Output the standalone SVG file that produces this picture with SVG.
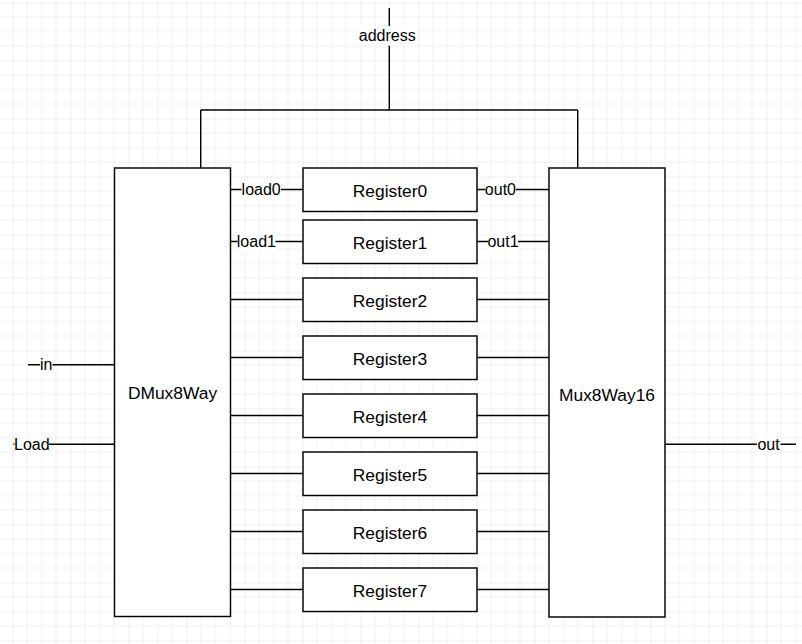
<svg xmlns="http://www.w3.org/2000/svg" width="802" height="644" viewBox="0 0 802 644">
  <defs>
    <pattern id="grid" patternUnits="userSpaceOnUse" x="12.5" y="2.5" width="58" height="58">
      <path d="M14.5 0V58M29 0V58M43.5 0V58M0 14.5H58M0 29H58M0 43.5H58" stroke="#f0f0f0" stroke-width="1" fill="none"/>
      <path d="M0 0V58M0 0H58" stroke="#e0e0e0" stroke-width="1" fill="none"/>
    </pattern>
    <style>
      .box { fill: #ffffff; stroke: #000000; stroke-width: 1.45; }
      .wire { fill: none; stroke: #000000; stroke-width: 1.45; }
      .node-label { font-family: "Liberation Sans", Arial, sans-serif; font-size: 17.4px; fill: #000000; text-anchor: middle; }
      .edge-label { font-family: "Liberation Sans", Arial, sans-serif; font-size: 16px; fill: #000000; text-anchor: middle; }
      .label-bg { fill: #ffffff; stroke: none; }
    </style>
  </defs>

  <rect x="0" y="0" width="802" height="644" fill="#ffffff"/>
  <rect x="0" y="0" width="802" height="644" fill="url(#grid)"/>

  <g id="connectors">
    <!-- address bus -->
    <path class="wire" d="M389.3 8V110"/>
    <path class="wire" d="M200.7 110H577.7"/>
    <path class="wire" d="M200.7 110V168"/>
    <path class="wire" d="M577.7 110V168"/>
    <!-- inputs -->
    <path class="wire" d="M28 364.7H114.5"/>
    <path class="wire" d="M13.5 444.3H114.5"/>
    <!-- output -->
    <path class="wire" d="M665 444.3H796"/>
    <!-- DMux to registers -->
    <path class="wire" d="M230.5 189.5H303"/>
    <path class="wire" d="M230.5 241.5H303"/>
    <path class="wire" d="M230.5 299.5H303"/>
    <path class="wire" d="M230.5 357.5H303"/>
    <path class="wire" d="M230.5 415.5H303"/>
    <path class="wire" d="M230.5 473.5H303"/>
    <path class="wire" d="M230.5 531.5H303"/>
    <path class="wire" d="M230.5 589.5H303"/>
    <!-- registers to Mux -->
    <path class="wire" d="M477 189.5H549"/>
    <path class="wire" d="M477 241.5H549"/>
    <path class="wire" d="M477 299.5H549"/>
    <path class="wire" d="M477 357.5H549"/>
    <path class="wire" d="M477 415.5H549"/>
    <path class="wire" d="M477 473.5H549"/>
    <path class="wire" d="M477 531.5H549"/>
    <path class="wire" d="M477 589.5H549"/>

    <!-- edge labels -->
    <rect class="label-bg" x="359" y="26" width="56.5" height="19.7"/>
    <text class="edge-label" x="387.2" y="40.7">address</text>

    <rect class="label-bg" x="40" y="355" width="12.5" height="19"/>
    <text class="edge-label" x="46.2" y="370.3">in</text>

    <rect class="label-bg" x="14.5" y="435" width="34.5" height="19"/>
    <text class="edge-label" x="31.8" y="450">Load</text>

    <rect class="label-bg" x="757" y="435" width="23.5" height="19"/>
    <text class="edge-label" x="768.5" y="450">out</text>

    <rect class="label-bg" x="241.5" y="180" width="39.5" height="19"/>
    <text class="edge-label" x="261.2" y="195.1">load0</text>

    <rect class="label-bg" x="237.5" y="232" width="38" height="19"/>
    <text class="edge-label" x="256.4" y="247.1">load1</text>

    <rect class="label-bg" x="485" y="180" width="31" height="19"/>
    <text class="edge-label" x="500.4" y="195.1">out0</text>

    <rect class="label-bg" x="488" y="232" width="30" height="19"/>
    <text class="edge-label" x="503" y="247.1">out1</text>
  </g>

  <g id="dmux8way">
    <rect class="box" x="114.5" y="168" width="116" height="448.5"/>
    <text class="node-label" x="172.5" y="398.5">DMux8Way</text>
  </g>

  <g id="mux8way16">
    <rect class="box" x="549" y="168" width="116" height="449"/>
    <text class="node-label" x="607" y="400.5">Mux8Way16</text>
  </g>

  <g id="register0">
    <rect class="box" x="303" y="168" width="174" height="43.5"/>
    <text class="node-label" x="390" y="196.5">Register0</text>
  </g>
  <g id="register1">
    <rect class="box" x="303" y="220" width="174" height="43.5"/>
    <text class="node-label" x="390" y="248.5">Register1</text>
  </g>
  <g id="register2">
    <rect class="box" x="303" y="278" width="174" height="43.5"/>
    <text class="node-label" x="390" y="306.5">Register2</text>
  </g>
  <g id="register3">
    <rect class="box" x="303" y="336" width="174" height="43.5"/>
    <text class="node-label" x="390" y="364.5">Register3</text>
  </g>
  <g id="register4">
    <rect class="box" x="303" y="394" width="174" height="43.5"/>
    <text class="node-label" x="390" y="422.5">Register4</text>
  </g>
  <g id="register5">
    <rect class="box" x="303" y="452" width="174" height="43.5"/>
    <text class="node-label" x="390" y="480.5">Register5</text>
  </g>
  <g id="register6">
    <rect class="box" x="303" y="510" width="174" height="43.5"/>
    <text class="node-label" x="390" y="538.5">Register6</text>
  </g>
  <g id="register7">
    <rect class="box" x="303" y="568" width="174" height="43.5"/>
    <text class="node-label" x="390" y="596.5">Register7</text>
  </g>
</svg>
